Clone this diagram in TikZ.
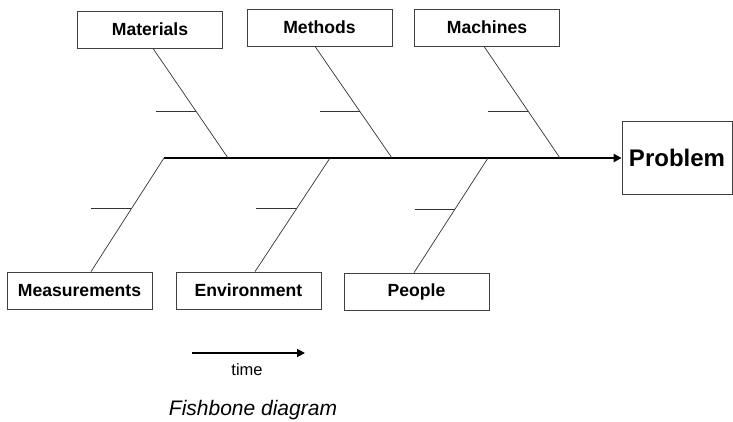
\documentclass[tikz,border=0pt]{standalone}
\usepackage{fontspec}
\setmainfont{Liberation Sans}
\usetikzlibrary{arrows.meta}
\begin{document}
\begin{tikzpicture}
[x=1pt,y=-1pt,
  boxDecorate/.style={shape=rectangle,draw=black!75,line width=0.8pt,inner sep=0pt,%
    minimum width=145pt,minimum height=37pt,font=\fontsize{17.6}{20}\selectfont\bfseries},%
  boneDecorate/.style={draw=black!80,line width=0.7pt},%
  spineDecorate/.style={-{Triangle[length=8pt,width=8pt]},line width=2.5pt},%
  timeDecorate/.style={-{Triangle[length=8pt,width=8pt]},line width=1.8pt}]
\useasboundingbox (0,0) rectangle (733,421);
%% cause boxes
\foreach \nodename/\txt/\x/\y in {mat/Materials/150/29.5, met/Methods/319.5/27.5,
  mac/Machines/487/27.5, meas/Measurements/79.5/290.5,
  env/Environment/248.5/290.5, peo/People/416.5/291.5}
{
  \node (\nodename) at (\x,\y) [boxDecorate] {\txt};
}
\node (prob) at (677,158) [boxDecorate,minimum width=110pt,minimum height=73pt,
  font=\fontsize{24}{28}\selectfont\bfseries] {Problem};
%% joints on the spine
\foreach \nodename/\x in {matJ/228, metJ/392, macJ/560, measJ/164, envJ/330, peoJ/488}
{
  \coordinate (\nodename) at (\x,158);
}
%% spine
\draw[spineDecorate] (measJ) -- (prob.west);
%% upper bones
\foreach \nodename/\dx/\p in {mat/3/0.573, met/-4.5/0.58, mac/-3/0.58}
{
  \draw[boneDecorate] ([xshift=\dx pt]\nodename.south) -- coordinate[pos=\p] (\nodename T) (\nodename J);
  \draw[boneDecorate] (\nodename T) -- ++(-40,0);
}
%% lower bones
\foreach \nodename/\dx in {meas/11.5, env/6.5, peo/-2.5}
{
  \draw[boneDecorate] (\nodename J) -- coordinate[pos=0.447] (\nodename T) ([xshift=\dx pt]\nodename.north);
  \draw[boneDecorate] (\nodename T) -- ++(-40,0);
}
%% time arrow and caption
\coordinate (tStart) at (192,353);
\coordinate (tEnd) at (305,353);
\draw[timeDecorate] (tStart) -- (tEnd);
\node (time) at (247,370) [font=\fontsize{16.5}{19}\selectfont] {time};
\node (caption) at (253,410) [font=\fontsize{21}{24}\selectfont\itshape] {Fishbone diagram};
\end{tikzpicture}
\end{document}
